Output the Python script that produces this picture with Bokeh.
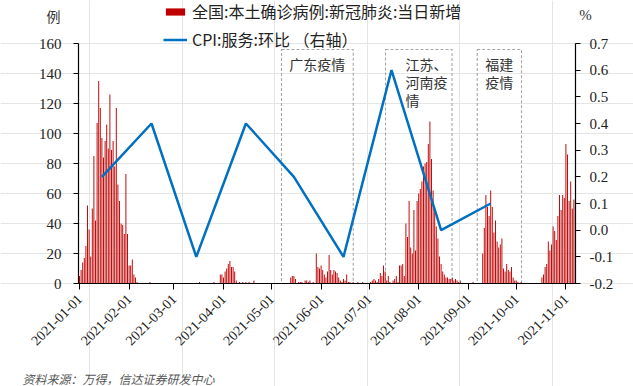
import math
import pandas as pd
from bokeh.plotting import figure
from bokeh.models import (ColumnDataSource, Range1d, LinearAxis, DatetimeAxis,
                          DatetimeTickFormatter, NumeralTickFormatter, Legend,
                          LegendItem, Label, FixedTicker)
from bokeh.embed import file_html
from bokeh.resources import INLINE

# ---------------- data ----------------
jan = [5, 9, 14, 17, 25, 52, 36, 18, 50, 85, 42, 107, 135, 117, 97, 84, 95, 106,
       90, 126, 89, 95, 78, 117, 66, 55, 40, 39, 33, 73, 33]
feb = [12, 12, 16, 6, 4, 1, 0, 0, 0, 0, 0, 0, 0, 1, 0, 0, 0, 0, 0, 0, 0, 0, 0, 0,
       0, 0, 0, 0]
mar = [0, 0, 0, 0, 0, 0, 0, 0, 0, 0, 0, 0, 0, 0, 0, 0, 1, 0, 0, 0, 0, 0, 0, 0,
       0, 1, 0, 0, 0, 6, 6]
apr = [4, 8, 10, 13, 15, 11, 11, 8, 2, 0, 1, 0, 1, 0, 1, 0, 1, 0, 0, 2, 0, 0, 0, 0,
       0, 0, 0, 0, 0, 0]
may = [0, 0, 0, 0, 0, 0, 0, 0, 0, 0, 0, 0, 4, 5, 5, 3, 0, 1, 1, 1, 0, 2, 2, 1,
       2, 0, 1, 0, 20, 11, 10]
jun = [12, 9, 6, 4, 8, 19, 9, 6, 9, 8, 7, 4, 2, 1, 3, 2, 6, 1, 1, 0, 1, 0, 0, 1,
       0, 0, 1, 0, 0, 0]
jul = [0, 1, 2, 3, 2, 1, 3, 7, 5, 12, 8, 2, 5, 1, 0, 2, 3, 5, 1, 12, 12, 13, 5, 40,
       31, 55, 24, 20, 49, 22, 55]
aug = [60, 63, 68, 78, 80, 81, 93, 108, 83, 62, 49, 38, 30, 18, 13, 8, 6, 4, 4, 3,
       3, 4, 2, 3, 2, 1, 2, 0, 0, 0, 0]
sep = [0, 0, 0, 1, 0, 0, 0, 0, 0, 20, 37, 59, 51, 45, 62, 51, 34, 42, 28, 24, 26,
       30, 10, 8, 13, 9, 8, 11, 4, 2]
oct_ = [2, 1, 0, 1, 0, 0, 0, 0, 0, 0, 0, 0, 0, 0, 0, 0, 4, 6, 11, 13, 28, 22, 26,
        38, 35, 29, 45, 59, 49, 59, 57]
nov = [93, 86, 55, 68, 50, 56, 65]

cpi_dates = ["2021-01-15", "2021-02-15", "2021-03-15", "2021-04-15", "2021-05-15",
             "2021-06-15", "2021-07-15", "2021-08-15", "2021-09-15"]
cpi_vals = [0.2, 0.4, -0.1, 0.4, 0.2, -0.1, 0.6, 0.0, 0.1]

outbreak_start = ["2021-05-07 06:00", "2021-07-11 06:00", "2021-09-06 14:00"]
outbreak_end = ["2021-06-21 02:00", "2021-08-21 20:00", "2021-10-04 06:00"]
outbreak_lines = [["广东疫情"], ["江苏、", "河南疫", "情"], ["福建", "疫情"]]

month_ticks = ["2021-01-01", "2021-02-01", "2021-03-01", "2021-04-01", "2021-05-01",
               "2021-06-01", "2021-07-01", "2021-08-01", "2021-09-01", "2021-10-01",
               "2021-11-01"]
left_ticks = [0, 20, 40, 60, 80, 100, 120, 140, 160]
right_ticks = [-0.2, -0.1, 0.0, 0.1, 0.2, 0.3, 0.4, 0.5, 0.6, 0.7]

legend_bar = "全国:本土确诊病例:新冠肺炎:当日新增"
legend_line = "CPI:服务:环比 （右轴）"
source_note = "资料来源：万得，信达证券研发中心"

# ---------------- helpers ----------------
DAY = 86400000.0
T0 = pd.Timestamp("2021-01-01")


def ms(ts):
    return pd.Timestamp(ts).value / 1e6


def day_ms(d):
    return ms(T0) + d * DAY


W, H = 633, 386
PX_DAY = 1.6          # horizontal pixels per day
X0_PX = 79.0          # pixel of 2021-01-01
Y0_PX = 283.0         # pixel of value 0 (left axis)
PX_UNIT = 1.5         # pixels per case
PX_CPI = 240.0 / 0.9  # pixels per CPI point

cases = jan + feb + mar + apr + may + jun + jul + aug + sep + oct_ + nov
last_day = len(cases) - 1
dates = pd.date_range("2021-01-01", periods=len(cases), freq="D")
bar_src = ColumnDataSource(dict(date=dates, cases=cases))
cpi_src = ColumnDataSource(dict(date=pd.to_datetime(cpi_dates), v=cpi_vals))

CJK = "Noto Sans CJK SC"
SERIF = "Liberation Serif"

x_start = day_ms((0 - X0_PX) / PX_DAY)
x_end = day_ms((W - X0_PX) / PX_DAY)
y_lo = -(H - Y0_PX) / PX_UNIT
y_hi = Y0_PX / PX_UNIT
c_lo = -0.2 - (H - Y0_PX) / PX_CPI
c_hi = -0.2 + Y0_PX / PX_CPI

p = figure(width=W, height=H, output_backend="svg", toolbar_location=None,
           x_axis_location=None, y_axis_location=None,
           x_range=Range1d(x_start, x_end), y_range=Range1d(y_lo, y_hi),
           min_border=0, min_border_left=0, min_border_right=0,
           min_border_top=0, min_border_bottom=0)
p.extra_y_ranges = {"cpi": Range1d(c_lo, c_hi)}
p.outline_line_color = None
p.background_fill_color = "white"
p.border_fill_color = "white"

left_edge = day_ms(-0.625)
right_edge = day_ms(last_day)

# outbreak boxes
box_src = ColumnDataSource(dict(left=pd.to_datetime(outbreak_start),
                                right=pd.to_datetime(outbreak_end)))
p.quad(left="left", right="right", bottom=0, top=156, source=box_src,
       fill_alpha=0, line_color="#A6A6A6", line_width=1.1, line_dash="3 2")

bars = p.vbar(x="date", top="cases", width=0.6 * DAY, source=bar_src,
              fill_color="#C00000", line_color=None)
cpi_line = p.line(x="date", y="v", source=cpi_src, y_range_name="cpi",
                  line_color="#0070C0", line_width=2.5)

# box texts
line_gap = 12.2
for i, lines in enumerate(outbreak_lines):
    s, e = ms(outbreak_start[i]), ms(outbreak_end[i])
    if i == 1:
        x0 = s + 12.5 * DAY
        align = "left"
    else:
        x0 = (s + e) / 2
        align = "center"
    for j, t in enumerate(lines):
        p.add_layout(Label(x=x0, y=146.5 - j * line_gap, text=t, text_font=CJK,
                           text_font_size="14px", text_color="#333333",
                           text_align=align, text_baseline="middle"))

# axes (fixed inside the full-canvas frame)
ax_l = LinearAxis(ticker=FixedTicker(ticks=left_ticks), bounds=(0, 160),
                  fixed_location=left_edge)
ax_r = LinearAxis(y_range_name="cpi", ticker=FixedTicker(ticks=right_ticks),
                  formatter=NumeralTickFormatter(format="0.0"),
                  bounds=(-0.2, 0.7), fixed_location=right_edge)
fmt = "%Y-%m-%d"
ax_b = DatetimeAxis(ticker=FixedTicker(ticks=[ms(t) for t in month_ticks]),
                    formatter=DatetimeTickFormatter(days=fmt, months=fmt, years=fmt,
                                                    hours=fmt, minutes=fmt),
                    bounds=(left_edge, right_edge), fixed_location=0)
p.add_layout(ax_l, "left")
p.add_layout(ax_r, "right")
p.add_layout(ax_b, "below")
ax_b.major_label_orientation = math.pi / 4

for ax in (ax_l, ax_r, ax_b):
    ax.axis_line_color = "black"
    ax.axis_line_width = 1.2
    ax.major_tick_line_color = "black"
    ax.major_tick_in = 0
    ax.major_tick_out = 5
    ax.minor_tick_out = 0
    ax.minor_tick_in = 0
    ax.major_label_text_color = "#222222"
    ax.major_label_text_font = SERIF
ax_l.major_label_text_font_size = "15px"
ax_l.major_label_standoff = 12
ax_r.major_label_text_font_size = "15px"
ax_r.major_label_standoff = 9
ax_b.major_label_text_font_size = "14px"
ax_b.major_tick_out = 6
ax_b.major_label_standoff = 7

# axis titles
p.add_layout(Label(x=day_ms((53 - X0_PX) / PX_DAY), y=(Y0_PX - 15) / PX_UNIT,
                   text="例", text_font=CJK, text_font_size="14px",
                   text_color="#333333", text_align="center", text_baseline="middle"))
p.add_layout(Label(x=day_ms((585 - X0_PX) / PX_DAY), y=(Y0_PX - 14) / PX_UNIT,
                   text="%", text_font=SERIF, text_font_size="15px",
                   text_color="#333333", text_align="center", text_baseline="middle"))

# source note
p.add_layout(Label(x=day_ms((22 - X0_PX) / PX_DAY), y=-(369 - Y0_PX) / PX_UNIT,
                   text=source_note, text_font=CJK, text_font_size="12px",
                   text_font_style="italic", text_color="#555555",
                   text_align="left", text_baseline="top"))

# legend
legend = Legend(items=[LegendItem(label=legend_bar, renderers=[bars]),
                       LegendItem(label=legend_line, renderers=[cpi_line])],
                location=(163, H - 51), orientation="vertical",
                label_text_font=CJK, label_text_font_size="16px",
                label_text_color="#222222",
                glyph_width=24, glyph_height=9, label_height=9,
                label_standoff=5, spacing=4, padding=0, margin=0,
                background_fill_alpha=0, border_line_color=None)
p.add_layout(legend)

open("out.html", "w").write(file_html(p, INLINE))
